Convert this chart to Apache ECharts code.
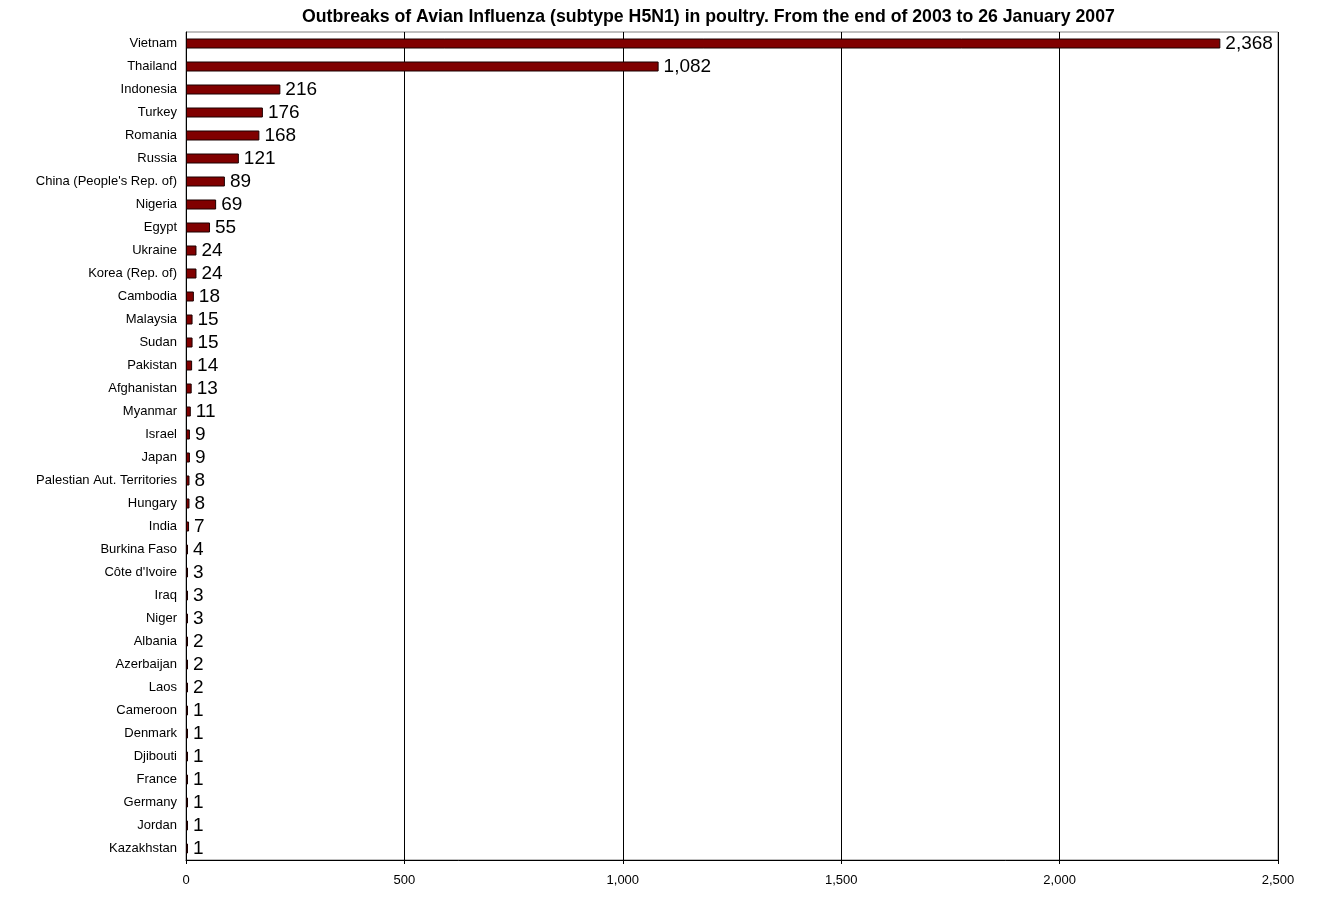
<!DOCTYPE html>
<html><head><meta charset="utf-8">
<script src="https://cdn.jsdelivr.net/npm/echarts@6/dist/echarts.min.js"></script>
<style>html,body{margin:0;padding:0;background:#fff;}#c{width:1322px;height:924px;}</style>
</head><body><div id="c"></div>
<script>
var countries = ["Vietnam","Thailand","Indonesia","Turkey","Romania","Russia","China (People's Rep. of)","Nigeria","Egypt","Ukraine","Korea (Rep. of)","Cambodia","Malaysia","Sudan","Pakistan","Afghanistan","Myanmar","Israel","Japan","Palestian Aut. Territories","Hungary","India","Burkina Faso","Côte d'Ivoire","Iraq","Niger","Albania","Azerbaijan","Laos","Cameroon","Denmark","Djibouti","France","Germany","Jordan","Kazakhstan"];
var outbreaks = [2368,1082,216,176,168,121,89,69,55,24,24,18,15,15,14,13,11,9,9,8,8,7,4,3,3,3,2,2,2,1,1,1,1,1,1,1];
var xTicks = [0,500,1000,1500,2000,2500];
var titleText = "Outbreaks of Avian Influenza (subtype H5N1) in poultry. From the end of 2003 to 26 January 2007";
var fmt = function(v){ return Number(v).toLocaleString('en-US'); };
var chart = echarts.init(document.getElementById('c'));
chart.setOption({
  animation:false,
  backgroundColor:'#ffffff',
  title:{text:titleText,left:297,top:3,textStyle:{fontFamily:'Liberation Sans',fontSize:17.7,fontWeight:'bold',color:'#000'}},
  grid:{left:186,right:44,top:32,bottom:64,show:true,borderColor:'#808080',borderWidth:1,backgroundColor:'#fff'},
  xAxis:{type:'value',min:xTicks[0],max:xTicks[xTicks.length-1],interval:500,
    axisLine:{show:true,lineStyle:{color:'#000',width:1}},
    axisTick:{show:true,length:4,lineStyle:{color:'#000'}},
    axisLabel:{fontFamily:'Liberation Sans',fontSize:13,color:'#000',margin:14,formatter:fmt},
    splitLine:{show:true,lineStyle:{color:'#000',width:1}}},
  yAxis:{type:'category',data:countries,inverse:true,
    axisLine:{show:true,lineStyle:{color:'#000',width:1}},
    axisTick:{show:false},
    axisLabel:{fontFamily:'Liberation Sans',fontSize:13,color:'#000',margin:9}},
  series:[{type:'bar',data:outbreaks,barWidth:10,barMinHeight:2,
    itemStyle:{color:'#800000',borderColor:'#1a0000',borderWidth:1},
    label:{show:true,position:'right',distance:5,fontFamily:'Liberation Sans',fontSize:19,color:'#000',formatter:function(p){return fmt(p.value);}}}]
});
</script></body></html>
